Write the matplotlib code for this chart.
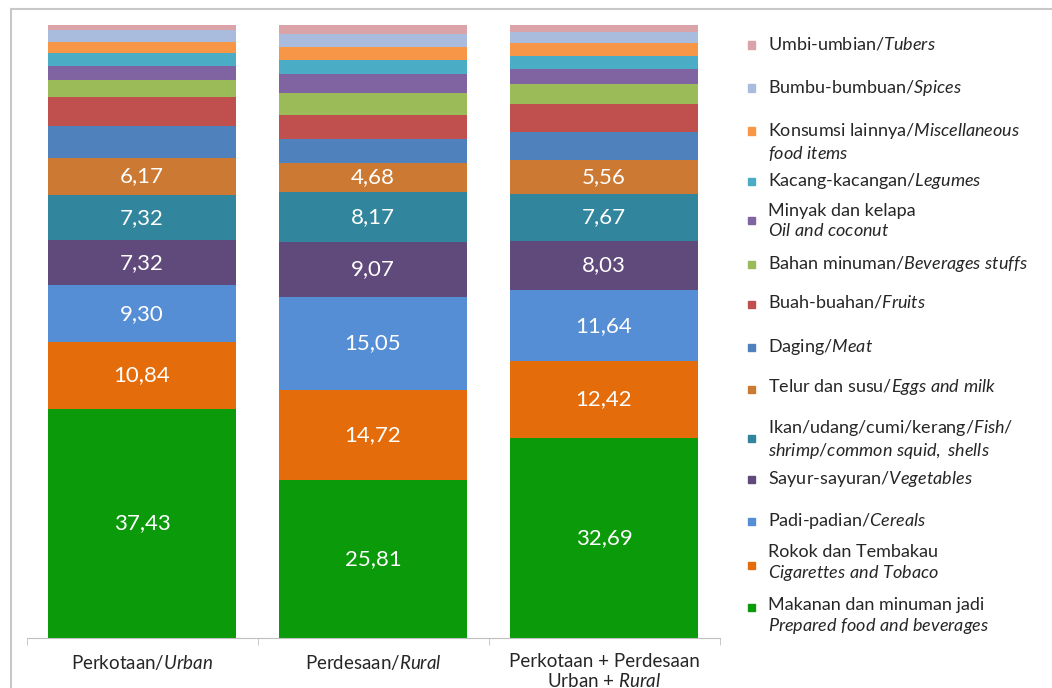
import matplotlib.pyplot as plt
import numpy as np

plt.rcParams['font.family'] = ['Lato', 'DejaVu Sans']
plt.rcParams['mathtext.fontset'] = 'custom'
plt.rcParams['mathtext.rm'] = 'Lato'
plt.rcParams['mathtext.it'] = 'Lato:italic'

# Data (percent of food expenditure)
groups = ['Perkotaan/$\\mathit{Urban}$', 'Perdesaan/$\\mathit{Rural}$',
          'Perkotaan + Perdesaan\nUrban + $\\mathit{Rural}$']

# stacked bottom -> top
categories = [
    'Makanan dan minuman jadi\n$\\mathit{Prepared\\ food\\ and\\ beverages}$',
    'Rokok dan Tembakau\n$\\mathit{Cigarettes\\ and\\ Tobaco}$',
    'Padi-padian/$\\mathit{Cereals}$',
    'Sayur-sayuran/$\\mathit{Vegetables}$',
    'Ikan/udang/cumi/kerang/$\\mathit{Fish/}$\n$\\mathit{shrimp/common\\ squid,\\ shells}$',
    'Telur dan susu/$\\mathit{Eggs\\ and\\ milk}$',
    'Daging/$\\mathit{Meat}$',
    'Buah-buahan/$\\mathit{Fruits}$',
    'Bahan minuman/$\\mathit{Beverages\\ stuffs}$',
    'Minyak dan kelapa\n$\\mathit{Oil\\ and\\ coconut}$',
    'Kacang-kacangan/$\\mathit{Legumes}$',
    'Konsumsi lainnya/$\\mathit{Miscellaneous}$\n$\\mathit{food\\ items}$',
    'Bumbu-bumbuan/$\\mathit{Spices}$',
    'Umbi-umbian/$\\mathit{Tubers}$',
]

urban = [37.43, 10.84, 9.30, 7.32, 7.32, 6.17, 5.11, 4.74, 2.73, 2.39, 2.12, 1.80, 1.91, 0.82]
rural = [25.81, 14.72, 15.05, 9.07, 8.17, 4.68, 3.90, 3.90, 3.68, 3.05, 2.22, 2.17, 2.06, 1.47]
total = [32.69, 12.42, 11.64, 8.03, 7.67, 5.56, 4.60, 4.45, 3.25, 2.50, 2.17, 2.11, 1.80, 1.09]
labeled = 6  # number of segments with value labels

colors = ['#0A9A0A', '#E46C0A', '#558ED5', '#604A7B', '#31859C', '#CC7A33',
          '#4F81BD', '#C0504D', '#9BBB59', '#8064A2', '#4BACC6', '#F79646',
          '#A9BCDD', '#D9A3A8']

values = np.array([urban, rural, total]).T  # shape (categories, groups)

fig = plt.figure(figsize=(10.52, 6.88), dpi=100)
W, H = 1052, 688
ax = fig.add_axes([26.5 / W, 1 - 638 / H, 693 / W, 613 / H])

x = np.arange(len(groups))
bottom = np.zeros(len(groups))
for i, (cat, col) in enumerate(zip(categories, colors)):
    ax.bar(x, values[i], bottom=bottom, width=0.814, color=col, edgecolor='none')
    if i < labeled:
        for xi, v, b in zip(x, values[i], bottom):
            ax.text(xi, b + v / 2, f'{v:.2f}'.replace('.', ','), ha='center', va='center',
                    color='white', fontsize=16)
    bottom += values[i]

ax.set_xlim(-0.5, len(groups) - 0.5)
ax.set_ylim(0, bottom.max())
ax.set_yticks([])
for s in ['top', 'right', 'left']:
    ax.spines[s].set_visible(False)
ax.spines['bottom'].set_color('#BFBFBF')
ax.set_xticks(np.arange(len(groups) + 1) - 0.5, minor=True)
ax.set_xticks(x)
ax.set_xticklabels(groups, fontsize=13.5, color='#262626', linespacing=1.1)
ax.tick_params(axis='x', which='major', length=0, pad=11)
ax.tick_params(axis='x', which='minor', length=5, color='#BFBFBF')

# legend, drawn top -> bottom; first-line y and marker y in pixels
text_y = [45, 88, 131, 181, 213, 264, 304, 347, 387, 428, 479, 521, 554, 607]
mark_y = [45, 88, 131, 181, 220, 264, 304, 347, 389, 438, 479, 521, 565, 607]
for k, i in enumerate(range(len(categories) - 1, -1, -1)):
    ym = 1 - mark_y[k] / H
    fig.patches.append(plt.Rectangle((748 / W, ym - 3.5 / H), 7 / W, 7 / H,
                                     transform=fig.transFigure, color=colors[i]))
    fig.text(768 / W, 1 - (text_y[k] - 10) / H, categories[i], ha='left', va='top',
             fontsize=13, color='#262626', linespacing=1.22)

# outer border
fig.add_artist(plt.Line2D([11 / W, 11 / W], [0, 1 - 9 / H], color='#C8C8C8', lw=1.5,
                          transform=fig.transFigure))
fig.add_artist(plt.Line2D([11 / W, 1], [1 - 9 / H, 1 - 9 / H], color='#C8C8C8', lw=1.5,
                          transform=fig.transFigure))

fig.savefig('out.png', dpi=100)
